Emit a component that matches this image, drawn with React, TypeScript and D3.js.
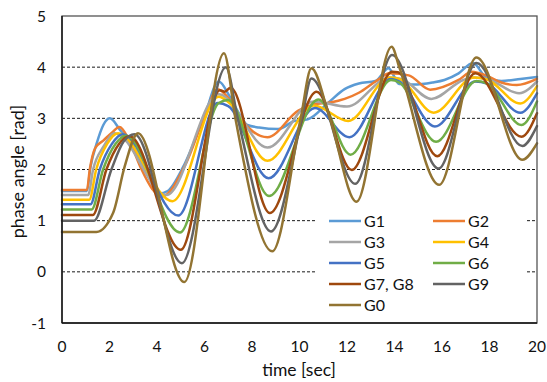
import React from "react";
import * as d3 from "d3";

type Pt = [number, number];

// Rotor phase angle [rad] of each generator against time [sec]
const G1: Pt[] = [
  [0, 1.58], [1.05, 1.58], [1.2, 2.05], [1.46, 2.51], [1.74, 2.87], [2.02, 3.0], [2.45, 2.77],
  [3.0, 2.45], [3.55, 1.95], [4.1, 1.53], [4.45, 1.58], [5.1, 2.05], [6.0, 3.05], [6.6, 3.72],
  [7.07, 3.42], [7.5, 3.06], [7.8, 2.87], [8.3, 2.82], [9.1, 2.79], [9.8, 2.95], [10.35, 2.98],
  [11.2, 3.3], [11.9, 3.57], [12.5, 3.68], [13.2, 3.73], [13.75, 3.98], [14.2, 3.67], [14.8, 3.66],
  [15.6, 3.7], [16.1, 3.75], [16.7, 3.88], [17.3, 4.08], [17.9, 3.78], [18.5, 3.73], [19.3, 3.77],
  [20, 3.81],
];
const G2: Pt[] = [
  [0, 1.6], [1.05, 1.6], [1.17, 2.0], [1.4, 2.42], [1.75, 2.57], [2.1, 2.72], [2.42, 2.83],
  [2.8, 2.6], [3.3, 2.05], [3.8, 1.62], [4.2, 1.47], [5.2, 2.1], [6.05, 3.1], [6.55, 3.57],
  [7.0, 3.4], [7.6, 2.95], [8.65, 2.63], [9.95, 3.15], [10.6, 3.27], [11.3, 3.31], [11.9, 3.38],
  [12.5, 3.5], [13.2, 3.72], [13.8, 3.88], [14.6, 3.84], [15.5, 3.56], [16.7, 3.75], [17.25, 3.91],
  [17.9, 3.83], [18.5, 3.7], [19.15, 3.65], [20, 3.77],
];
const G3: Pt[] = [
  [0, 1.5], [1.1, 1.5], [1.31, 2.0], [1.75, 2.45], [2.22, 2.71], [4.4, 1.5], [6.6, 3.47],
  [8.65, 2.43], [10.6, 3.33], [12.0, 3.23], [13.8, 3.8], [14.3, 3.77], [15.55, 3.38], [16.9, 3.75],
  [17.35, 3.8], [17.9, 3.77], [19.25, 3.49], [20, 3.72],
];
const G4: Pt[] = [
  [0, 1.41], [1.15, 1.41], [1.44, 2.0], [1.9, 2.5], [2.36, 2.71], [4.65, 1.38], [6.6, 3.42],
  [7.05, 3.3], [8.65, 2.17], [10.6, 3.25], [12.05, 2.95], [13.8, 3.8], [14.25, 3.76], [15.65, 3.11],
  [17.35, 3.8], [17.9, 3.76], [19.3, 3.29], [20, 3.63],
];
const G5: Pt[] = [
  [0, 1.32], [1.2, 1.32], [1.59, 2.0], [2.1, 2.5], [2.55, 2.69], [4.9, 1.1], [6.55, 3.3],
  [7.0, 3.24], [8.7, 1.83], [10.65, 3.2], [12.1, 2.63], [13.85, 3.77], [14.2, 3.72], [15.7, 2.84],
  [17.4, 3.72], [17.9, 3.68], [19.3, 3.11], [20, 3.49],
];
const G6: Pt[] = [
  [0, 1.22], [1.25, 1.22], [1.73, 2.0], [2.25, 2.5], [2.7, 2.66], [4.97, 0.77], [6.6, 3.3],
  [7.0, 3.36], [8.72, 1.48], [10.8, 3.37], [12.15, 2.29], [13.85, 3.75], [14.2, 3.7], [15.75, 2.54],
  [17.45, 3.73], [17.9, 3.68], [19.35, 2.87], [20, 3.33],
];
const G7G8: Pt[] = [
  [0, 1.11], [1.3, 1.11], [1.87, 2.0], [2.4, 2.5], [2.85, 2.65], [5.0, 0.43], [6.65, 3.55],
  [6.85, 3.52], [7.1, 3.6], [8.75, 1.15], [10.72, 3.52], [12.2, 1.99], [13.9, 3.91], [14.15, 3.9],
  [15.8, 2.26], [17.4, 3.88], [19.35, 2.64], [20, 3.1],
];
const G9: Pt[] = [
  [0, 1.0], [1.35, 1.0], [2.08, 2.0], [2.6, 2.55], [3.05, 2.69], [5.05, 0.17], [6.9, 4.0],
  [7.4, 3.0], [8.8, 0.79], [10.1, 3.0], [10.5, 3.78], [12.35, 1.72], [13.9, 4.24], [15.85, 2.02],
  [17.45, 4.08], [19.38, 2.46], [20, 2.85],
];
const G0: Pt[] = [
  [0, 0.78], [1.45, 0.78], [2.15, 1.15], [2.64, 2.06], [3.2, 2.71], [5.15, -0.2], [6.82, 4.27],
  [7.3, 3.0], [8.85, 0.4], [10.05, 3.0], [10.5, 3.98], [11.28, 3.0], [12.4, 1.37], [13.88, 4.4],
  [14.2, 4.0], [15.88, 1.7], [17.45, 4.19], [19.38, 2.19], [20, 2.51],
];

const seriesLabels = ["G1", "G2", "G3", "G4", "G5", "G6", "G7, G8", "G9", "G0"];
const seriesData = [G1, G2, G3, G4, G5, G6, G7G8, G9, G0];
const seriesColors = [
  "#5B9BD5", "#ED7D31", "#A5A5A5", "#FFC000", "#4472C4",
  "#70AD47", "#9E480E", "#636363", "#927432",
];

const xTicks = [0, 2, 4, 6, 8, 10, 12, 14, 16, 18, 20];
const yTicks = [-1, 0, 1, 2, 3, 4, 5];
const gridValues = [0, 1, 2, 3, 4];

const FONT = "Lato, 'Open Sans', sans-serif";
const INK = "#111";

export default function App() {
  const W = 547;
  const H = 382;
  const plot = { left: 62, right: 537, top: 16, bottom: 323 };

  const x = d3.scaleLinear().domain([0, 20]).range([plot.left, plot.right]);
  const y = d3.scaleLinear().domain([-1, 5]).range([plot.bottom, plot.top]);

  const line = d3
    .line<Pt>()
    .x((d) => x(d[0]))
    .y((d) => y(d[1]))
    .curve(d3.curveMonotoneX);

  const legend = { x: 317, y: 209, w: 208, h: 107, col: [329, 433], row0: 221, rowStep: 21, len: 32 };

  return (
    <svg
      width={W}
      height={H}
      viewBox={`0 0 ${W} ${H}`}
      style={{ position: "absolute", left: 0, top: 0, background: "#fff" }}
      fontFamily={FONT}
    >
      <rect x={0} y={0} width={W} height={H} fill="#fff" />

      {/* dashed horizontal gridlines */}
      {gridValues.map((v) => (
        <line
          key={`g${v}`}
          x1={plot.left}
          x2={plot.right}
          y1={y(v)}
          y2={y(v)}
          stroke="#1a1a1a"
          strokeWidth={1}
          strokeDasharray="3,2"
        />
      ))}

      {/* series */}
      <g fill="none" strokeWidth={2.5} strokeLinejoin="round" strokeLinecap="round">
        {seriesData.map((d, i) => (
          <path key={seriesLabels[i]} d={line(d) ?? ""} stroke={seriesColors[i]} />
        ))}
      </g>

      {/* plot frame */}
      <rect
        x={plot.left}
        y={plot.top}
        width={plot.right - plot.left}
        height={plot.bottom - plot.top}
        fill="none"
        stroke="#555"
        strokeWidth={1.3}
      />
      <line x1={plot.left} x2={plot.left} y1={plot.top} y2={plot.bottom} stroke="#111" strokeWidth={1.4} />
      <line x1={plot.left} x2={plot.right} y1={plot.bottom} y2={plot.bottom} stroke="#111" strokeWidth={1.4} />

      {/* legend */}
      <rect x={legend.x} y={legend.y} width={legend.w} height={legend.h} fill="#fff" />
      {seriesLabels.map((label, i) => {
        const cx = legend.col[i % 2];
        const cy = legend.row0 + Math.floor(i / 2) * legend.rowStep;
        return (
          <g key={`lg${label}`}>
            <line x1={cx} x2={cx + legend.len} y1={cy} y2={cy} stroke={seriesColors[i]} strokeWidth={2.5} />
            <text x={cx + legend.len + 3} y={cy} dy="0.36em" fontSize={16} fill={INK}>
              {label}
            </text>
          </g>
        );
      })}

      {/* y tick labels */}
      {yTicks.map((v) => (
        <text key={`y${v}`} x={46} y={y(v)} dy="0.36em" textAnchor="end" fontSize={15.5} fill={INK}>
          {v}
        </text>
      ))}

      {/* x tick labels */}
      {xTicks.map((v) => (
        <text key={`x${v}`} x={x(v)} y={352} textAnchor="middle" fontSize={15.5} fill={INK}>
          {v}
        </text>
      ))}

      {/* axis titles */}
      <text x={299} y={376} textAnchor="middle" fontSize={17.5} fill={INK}>
        time [sec]
      </text>
      <text
        transform={`translate(24, ${(plot.top + plot.bottom) / 2 + 2}) rotate(-90)`}
        textAnchor="middle"
        fontSize={18}
        fill={INK}
      >
        phase angle [rad]
      </text>
    </svg>
  );
}
